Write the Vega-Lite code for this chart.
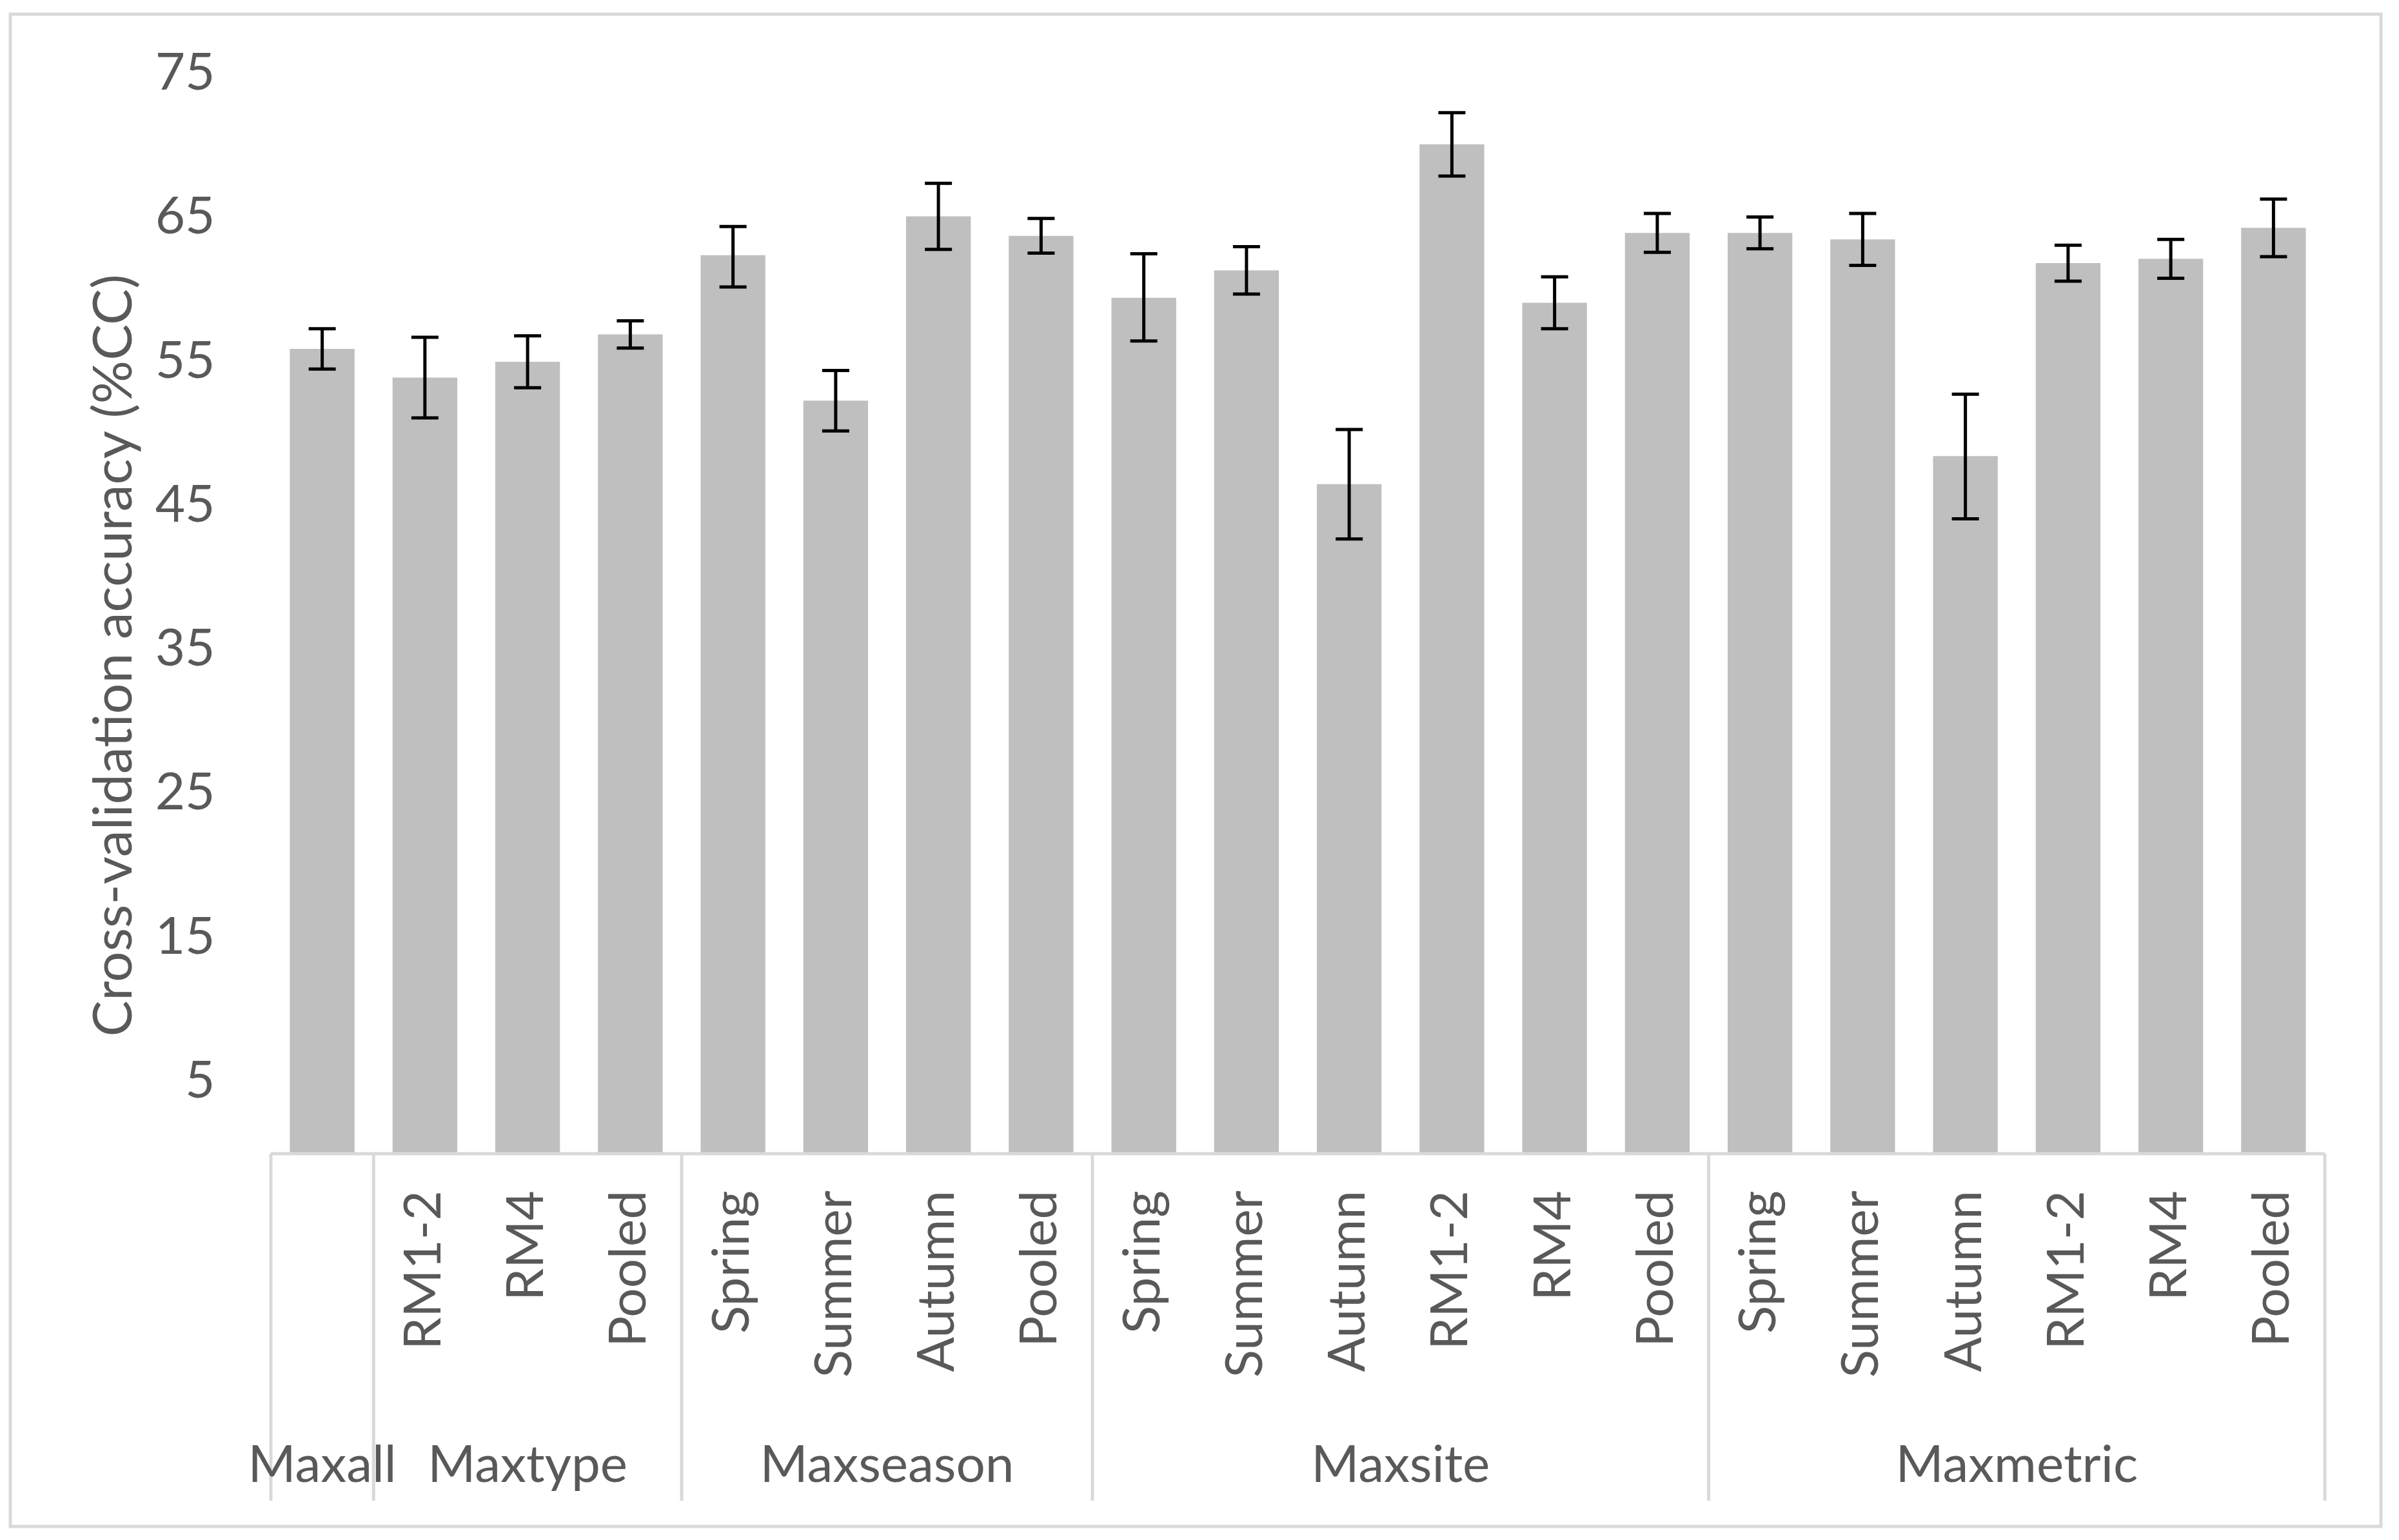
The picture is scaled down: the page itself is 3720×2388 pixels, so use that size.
{
  "$schema": "https://vega.github.io/schema/vega-lite/v6.json",
  "autosize": {"type": "none"},
  "width": 3676,
  "height": 2345,
  "padding": {"left": 16, "top": 22, "right": 28, "bottom": 21},
  "background": "white",
  "config": {"view": {"stroke": "#d9d9d9", "strokeWidth": 5}, "font": "Lato"},
  "datasets": {
    "bars": [
      {"key": "Maxall", "group": "Maxall", "sub": "", "value": 55.9, "lo": 54.5, "hi": 57.3},
      {"key": "Maxtype|RM1-2", "group": "Maxtype", "sub": "RM1-2", "value": 53.9, "lo": 51.1, "hi": 56.7},
      {"key": "Maxtype|RM4", "group": "Maxtype", "sub": "RM4", "value": 55.0, "lo": 53.2, "hi": 56.8},
      {"key": "Maxtype|Pooled", "group": "Maxtype", "sub": "Pooled", "value": 56.9, "lo": 55.95, "hi": 57.85},
      {"key": "Maxseason|Spring", "group": "Maxseason", "sub": "Spring", "value": 62.4, "lo": 60.2, "hi": 64.4},
      {"key": "Maxseason|Summer", "group": "Maxseason", "sub": "Summer", "value": 52.3, "lo": 50.2, "hi": 54.4},
      {"key": "Maxseason|Autumn", "group": "Maxseason", "sub": "Autumn", "value": 65.1, "lo": 62.8, "hi": 67.4},
      {"key": "Maxseason|Pooled", "group": "Maxseason", "sub": "Pooled", "value": 63.75, "lo": 62.55, "hi": 64.95},
      {"key": "Maxsite|Spring", "group": "Maxsite", "sub": "Spring", "value": 59.45, "lo": 56.45, "hi": 62.5},
      {"key": "Maxsite|Summer", "group": "Maxsite", "sub": "Summer", "value": 61.35, "lo": 59.7, "hi": 63.0},
      {"key": "Maxsite|Autumn", "group": "Maxsite", "sub": "Autumn", "value": 46.5, "lo": 42.7, "hi": 50.3},
      {"key": "Maxsite|RM1-2", "group": "Maxsite", "sub": "RM1-2", "value": 70.1, "lo": 67.9, "hi": 72.3},
      {"key": "Maxsite|RM4", "group": "Maxsite", "sub": "RM4", "value": 59.1, "lo": 57.3, "hi": 60.9},
      {"key": "Maxsite|Pooled", "group": "Maxsite", "sub": "Pooled", "value": 63.95, "lo": 62.6, "hi": 65.3},
      {"key": "Maxmetric|Spring", "group": "Maxmetric", "sub": "Spring", "value": 63.95, "lo": 62.85, "hi": 65.05},
      {"key": "Maxmetric|Summer", "group": "Maxmetric", "sub": "Summer", "value": 63.5, "lo": 61.7, "hi": 65.3},
      {"key": "Maxmetric|Autumn", "group": "Maxmetric", "sub": "Autumn", "value": 48.45, "lo": 44.1, "hi": 52.75},
      {"key": "Maxmetric|RM1-2", "group": "Maxmetric", "sub": "RM1-2", "value": 61.85, "lo": 60.6, "hi": 63.1},
      {"key": "Maxmetric|RM4", "group": "Maxmetric", "sub": "RM4", "value": 62.15, "lo": 60.8, "hi": 63.5},
      {"key": "Maxmetric|Pooled", "group": "Maxmetric", "sub": "Pooled", "value": 64.3, "lo": 62.3, "hi": 66.3}
    ]
  },
  "layer": [
    {
      "data": {"name": "bars"},
      "mark": {"type": "bar", "color": "#bfbfbf", "width": {"band": 0.63}},
      "encoding": {
        "x": {"field": "key", "type": "nominal", "axis": null,
              "scale": {"domain": ["Maxall", "Maxtype|RM1-2", "Maxtype|RM4", "Maxtype|Pooled", "Maxseason|Spring", "Maxseason|Summer", "Maxseason|Autumn", "Maxseason|Pooled", "Maxsite|Spring", "Maxsite|Summer", "Maxsite|Autumn", "Maxsite|RM1-2", "Maxsite|RM4", "Maxsite|Pooled", "Maxmetric|Spring", "Maxmetric|Summer", "Maxmetric|Autumn", "Maxmetric|RM1-2", "Maxmetric|RM4", "Maxmetric|Pooled"], "paddingInner": 0, "paddingOuter": 0, "range": [404, 3589]}},
        "y": {"field": "value", "type": "quantitative",
              "scale": {"domain": [-25.88, 79.14], "nice": false, "zero": false},
              "axis": {"values": [5, 15, 25, 35, 45, 55, 65, 75], "offset": -404, "domain": false, "ticks": false, "tickSize": 0, "grid": false,
                       "labelPadding": 87, "labelFont": "Lato", "labelFontSize": 80, "labelColor": "#595959",
                       "title": "Cross-validation accuracy (%CC)", "titleFont": "Lato", "titleFontSize": 84, "titleFontWeight": "normal", "titleColor": "#595959",
                       "titleAngle": 270, "titleAlign": "center", "titleBaseline": "middle", "titleX": -242, "titleY": 994}}
      }
    },
    {
      "data": {"values": [{"key": "Maxall"}, {"key": "Maxtype|RM1-2"}, {"key": "Maxseason|Spring"}, {"key": "Maxsite|Spring"}, {"key": "Maxmetric|Spring"}]},
      "mark": {"type": "rule", "color": "#d9d9d9", "strokeWidth": 5},
      "encoding": {
        "x": {"field": "key", "type": "nominal", "bandPosition": 0},
        "y": {"datum": 0, "type": "quantitative"},
        "y2": {"datum": -24.09}
      }
    },
    {
      "data": {"values": [{"key": "Maxmetric|Pooled"}]},
      "mark": {"type": "rule", "color": "#d9d9d9", "strokeWidth": 5},
      "encoding": {
        "x": {"field": "key", "type": "nominal", "bandPosition": 1},
        "y": {"datum": 0, "type": "quantitative"},
        "y2": {"datum": -24.09}
      }
    },
    {
      "data": {"values": [{"from": "Maxall", "to": "Maxmetric|Pooled"}]},
      "mark": {"type": "rule", "color": "#d9d9d9", "strokeWidth": 5},
      "encoding": {
        "x": {"field": "from", "type": "nominal", "bandPosition": 0},
        "x2": {"field": "to", "bandPosition": 1},
        "y": {"datum": 0, "type": "quantitative"}
      }
    },
    {
      "data": {"name": "bars"},
      "mark": {"type": "rule", "color": "black", "strokeWidth": 5},
      "encoding": {
        "x": {"field": "key", "type": "nominal"},
        "y": {"field": "lo", "type": "quantitative"},
        "y2": {"field": "hi"}
      }
    },
    {
      "data": {"name": "bars"},
      "mark": {"type": "tick", "color": "black", "size": 42, "thickness": 5, "opacity": 1},
      "encoding": {
        "x": {"field": "key", "type": "nominal"},
        "y": {"field": "lo", "type": "quantitative"}
      }
    },
    {
      "data": {"name": "bars"},
      "mark": {"type": "tick", "color": "black", "size": 42, "thickness": 5, "opacity": 1},
      "encoding": {
        "x": {"field": "key", "type": "nominal"},
        "y": {"field": "hi", "type": "quantitative"}
      }
    },
    {
      "data": {"name": "bars"},
      "mark": {"type": "text", "angle": 270, "align": "right", "baseline": "middle", "font": "Lato", "fontSize": 80, "color": "#595959"},
      "encoding": {
        "x": {"field": "key", "type": "nominal"},
        "y": {"datum": -2.55, "type": "quantitative"},
        "text": {"field": "sub"}
      }
    },
    {
      "data": {"values": [{"key": "Maxall", "label": "Maxall"}, {"key": "Maxtype|RM4", "label": "Maxtype"}]},
      "mark": {"type": "text", "align": "center", "baseline": "alphabetic", "font": "Lato", "fontSize": 80, "color": "#595959"},
      "encoding": {
        "x": {"field": "key", "type": "nominal"},
        "y": {"datum": -22.8, "type": "quantitative"},
        "text": {"field": "label"}
      }
    },
    {
      "data": {"values": [{"key": "Maxseason|Autumn", "label": "Maxseason"}, {"key": "Maxsite|RM1-2", "label": "Maxsite"}, {"key": "Maxmetric|RM1-2", "label": "Maxmetric"}]},
      "mark": {"type": "text", "align": "center", "baseline": "alphabetic", "font": "Lato", "fontSize": 80, "color": "#595959"},
      "encoding": {
        "x": {"field": "key", "type": "nominal", "bandPosition": 0},
        "y": {"datum": -22.8, "type": "quantitative"},
        "text": {"field": "label"}
      }
    }
  ]
}
